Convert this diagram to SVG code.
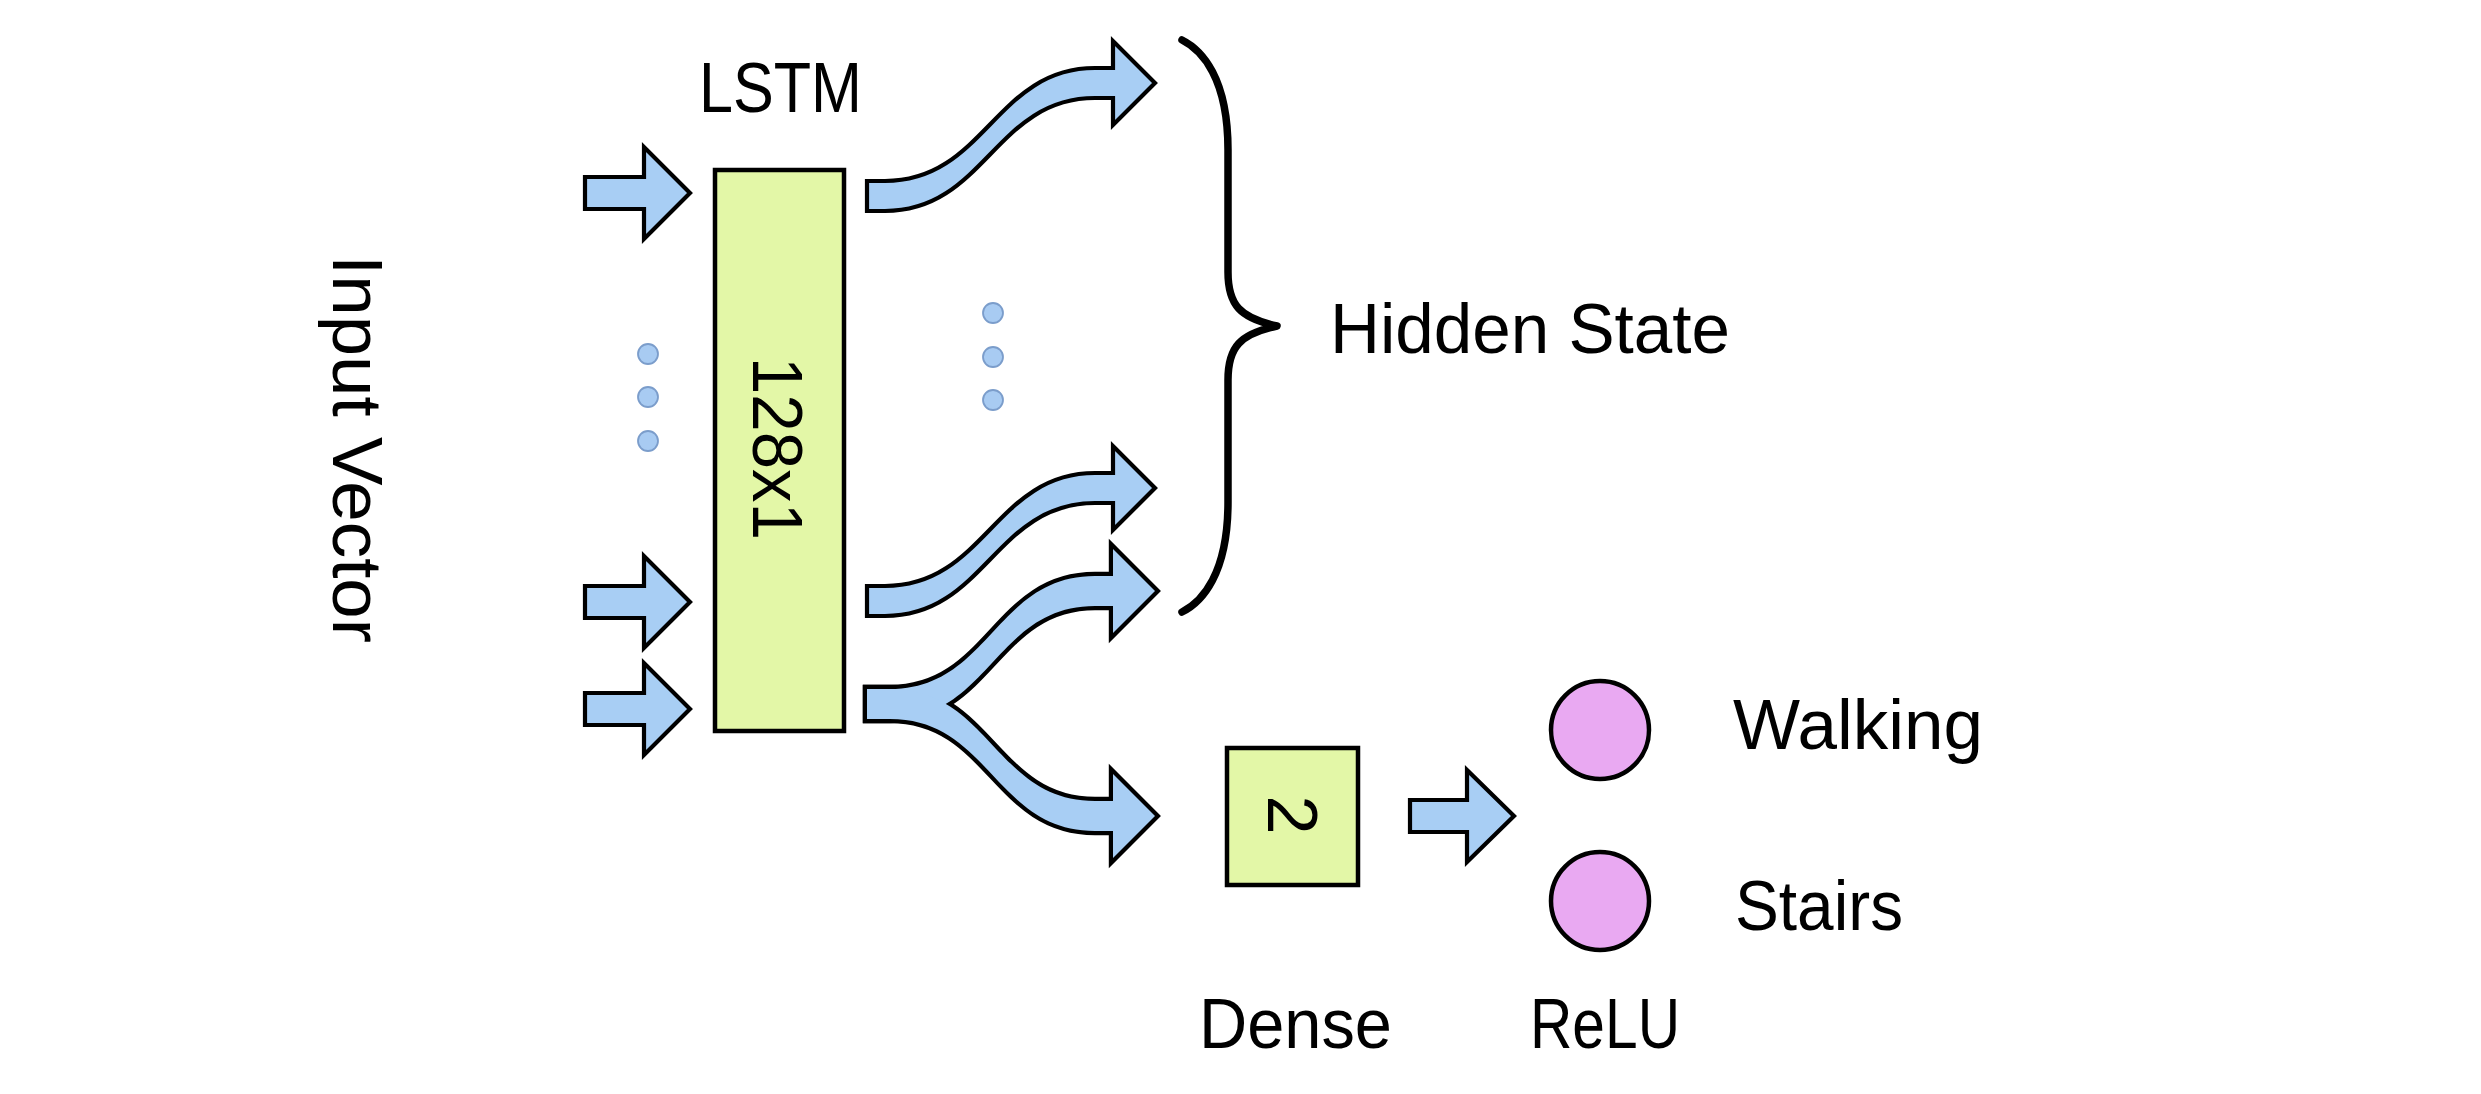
<svg xmlns="http://www.w3.org/2000/svg" xmlns:xlink="http://www.w3.org/1999/xlink" width="2481" height="1094" viewBox="0 0 2481 1094">
<style>
.lbl{font-family:"Liberation Sans",Arial,sans-serif;font-size:70px;fill:#000}
.arr{fill:#A8CEF4;stroke:#000;stroke-width:4.2;stroke-linejoin:miter;stroke-miterlimit:10}
.box{fill:#E3F7A7;stroke:#000;stroke-width:4.5}
.dot{fill:#A8CBF2;stroke:#7B9DCB;stroke-width:1.8}
.neuron{fill:#E9A9F2;stroke:#000;stroke-width:4.5}
.brace{fill:none;stroke:#000;stroke-width:7.5;stroke-linecap:round;stroke-linejoin:round}
.under{fill:#A8CEF4;stroke:#000;stroke-width:8.4;stroke-linejoin:miter;stroke-miterlimit:10}
.over{fill:#A8CEF4;stroke:none}
</style>
<defs>
<path id="forkUp" d="M867,689 L890,689 C990,689 995,576 1095,576 L1113,576 L1113,549 L1155,591 L1113,633 L1113,606 L1095,606 C995,606 990,719 890,719 L867,719 Z"/>
<path id="forkDown" d="M867,689 L890,689 C990,689 995,801 1095,801 L1113,801 L1113,774 L1155,816 L1113,858 L1113,831 L1095,831 C995,831 990,719 890,719 L867,719 Z"/>
</defs>
<rect width="2481" height="1094" fill="#fff"/>

<g id="connectors">
  <!-- input arrows -->
  <path class="arr" d="M585,177 L644,177 L644,147 L690,193 L644,239 L644,209 L585,209 Z"/>
  <path class="arr" d="M585,586 L644,586 L644,556 L690,602 L644,648 L644,618 L585,618 Z"/>
  <path class="arr" d="M585,693 L644,693 L644,663 L690,709 L644,755 L644,725 L585,725 Z"/>
  <!-- output curved arrows -->
  <path class="arr" d="M867,181 L885,181 C985,181 995,68 1095,68 L1113,68 L1113,41 L1155,83 L1113,125 L1113,98 L1095,98 C995,98 985,211 885,211 L867,211 Z"/>
  <path class="arr" d="M867,586 L885,586 C985,586 995,473 1095,473 L1113,473 L1113,446 L1155,488 L1113,530 L1113,503 L1095,503 C995,503 985,616 885,616 L867,616 Z"/>
  <!-- forked arrow -->
  <use xlink:href="#forkUp" class="under"/>
  <use xlink:href="#forkDown" class="under"/>
  <use xlink:href="#forkUp" class="over"/>
  <use xlink:href="#forkDown" class="over"/>
  <!-- dense to relu -->
  <path class="arr" d="M1410,800 L1467,800 L1467,770 L1514,816 L1467,862 L1467,832 L1410,832 Z"/>
</g>

<g id="input-vector">
  <text class="lbl" transform="translate(333,255) rotate(90)" textLength="388" lengthAdjust="spacingAndGlyphs">Input Vector</text>
</g>

<g id="input-dots">
  <circle class="dot" cx="648" cy="354" r="10"/>
  <circle class="dot" cx="648" cy="397" r="10"/>
  <circle class="dot" cx="648" cy="441" r="10"/>
</g>

<g id="lstm">
  <text class="lbl" x="699" y="112" textLength="163" lengthAdjust="spacingAndGlyphs">LSTM</text>
  <rect class="box" x="715" y="170" width="129" height="561"/>
  <text class="lbl" transform="translate(753,357) rotate(90)" font-size="72" textLength="183" lengthAdjust="spacingAndGlyphs">128x1</text>
</g>

<g id="output-dots">
  <circle class="dot" cx="993" cy="313" r="10"/>
  <circle class="dot" cx="993" cy="357" r="10"/>
  <circle class="dot" cx="993" cy="400" r="10"/>
</g>

<g id="hidden-state">
  <path class="brace" d="M1182,40 C1202,50 1228,78 1228,150 L1228,272 C1228,305 1240,318 1277,326 C1240,334 1228,347 1228,380 L1228,502 C1228,574 1202,602 1182,612"/>
  <text class="lbl" x="1330" y="353" textLength="400" lengthAdjust="spacingAndGlyphs">Hidden State</text>
</g>

<g id="dense">
  <rect class="box" x="1227" y="748" width="131" height="137"/>
  <text class="lbl" transform="translate(1268,815) rotate(90)" font-size="68" text-anchor="middle">2</text>
  <text class="lbl" x="1199" y="1048" textLength="193" lengthAdjust="spacingAndGlyphs">Dense</text>
</g>

<g id="relu">
  <circle class="neuron" cx="1600" cy="730" r="49"/>
  <circle class="neuron" cx="1600" cy="901" r="49"/>
  <text class="lbl" x="1530" y="1048" textLength="150" lengthAdjust="spacingAndGlyphs">ReLU</text>
</g>

<g id="walking">
  <text class="lbl" x="1733" y="749" textLength="250" lengthAdjust="spacingAndGlyphs">Walking</text>
</g>
<g id="stairs">
  <text class="lbl" x="1735" y="930" textLength="168" lengthAdjust="spacingAndGlyphs">Stairs</text>
</g>
</svg>
